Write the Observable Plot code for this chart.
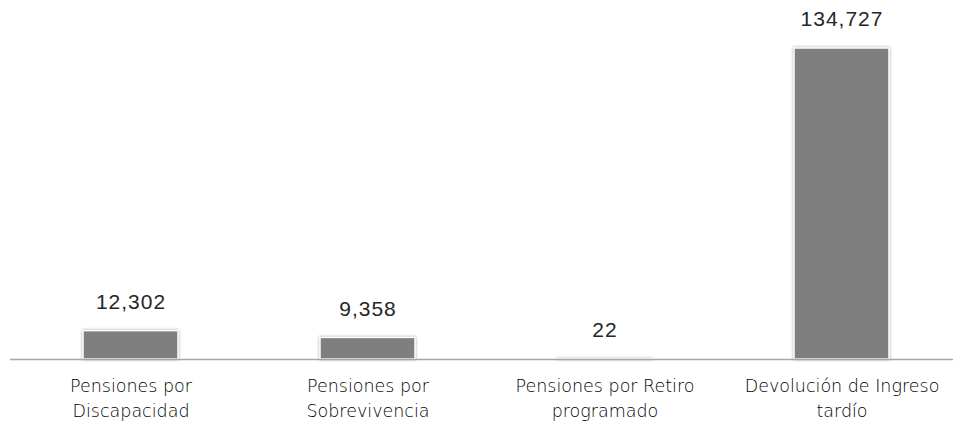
<!DOCTYPE html>
<html>
<head>
<meta charset="utf-8">
<script src="https://cdn.jsdelivr.net/npm/d3@7"></script>
<script src="https://cdn.jsdelivr.net/npm/@observablehq/plot@0.6"></script>
<style>
  body { margin: 0; background: #fff; }
  .bars rect { filter: drop-shadow(0 0 1.5px rgba(0,0,0,0.35)); }
  .vals text { letter-spacing: 1px; }
</style>
</head>
<body>
<div id="chart"></div>
<script>
const categories = [
  "Pensiones por\nDiscapacidad",
  "Pensiones por\nSobrevivencia",
  "Pensiones por Retiro\nprogramado",
  "Devolución de Ingreso\ntardío"
];
const values = [12302, 9358, 22, 134727];

const data = categories.map((c, i) => ({category: c, value: values[i]}));

const chart = Plot.plot({
  width: 953,
  height: 425,
  marginLeft: 10,
  marginRight: 0,
  marginTop: 48,
  marginBottom: 66,
  style: {fontFamily: "'DejaVu Sans', sans-serif", background: "#fff"},
  x: {domain: categories, range: [12, 960], paddingInner: 0.6, paddingOuter: 0.3, label: null},
  y: {domain: [0, d3.max(values)], nice: false, axis: null},
  marks: [
    Plot.barY(data, {x: "category", y: "value", fill: "#7f7f7f", stroke: "#ffffff", strokeWidth: 1.5, className: "bars"}),
    Plot.ruleY([0], {stroke: "#a6a6a6", strokeWidth: 1.5}),
    Plot.text(data, {x: "category", y: "value", text: d => d3.format(",")(d.value), dy: -29, fontSize: 21, fontFamily: "'Liberation Sans', Arial, sans-serif", fill: "#262626", className: "vals"}),
    Plot.axisX({tickSize: 0, tickPadding: 15, fontSize: 17.5, fontWeight: 300, fill: "#000", lineHeight: 1.43, label: null})
  ]
});
document.getElementById("chart").append(chart);
</script>
</body>
</html>
